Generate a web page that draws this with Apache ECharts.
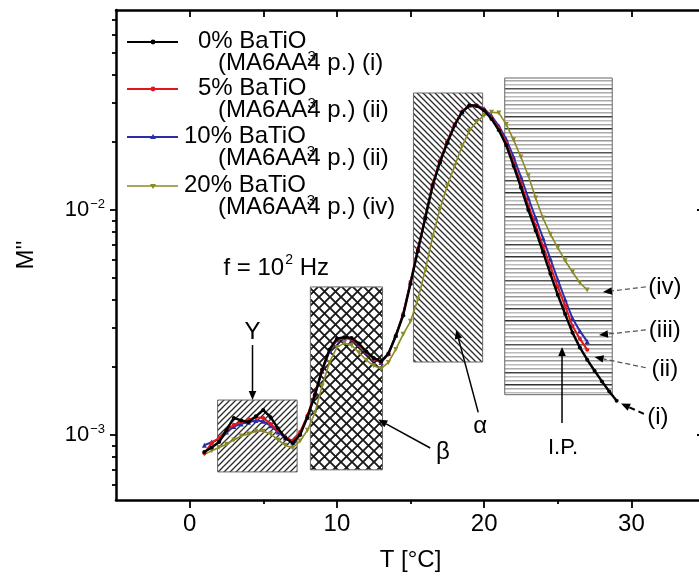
<!DOCTYPE html>
<html><head><meta charset="utf-8">
<script src="https://cdn.jsdelivr.net/npm/echarts@6/dist/echarts.min.js"></script>
<style>html,body{margin:0;padding:0;background:#fff}#c{width:699px;height:576px}</style>
</head><body><div id="c"></div>
<script>
const FONT = '"Liberation Sans", Arial, Helvetica, sans-serif';

// ---- data ----
const temps0 = [1,1.5,2,2.5,3,3.5,4,4.5,5,5.5,6,6.5,7,7.5,8,8.5,9,9.5,10,10.5,11,11.5,12,12.5,13,13.5,14,14.5,15,15.5,16,16.5,17,17.5,18,18.5,19,19.5,20,20.5,21,21.5,22,22.5,23,23.5,24,24.5,25,25.5,26,26.5,27,27.5,28,28.5,29];
const tempsB = [1,1.5,2,2.5,3,3.5,4,4.5,5,5.5,6,6.5,7,7.5,8,8.5,9,9.5,10,10.5,11,11.5,12,12.5,13,13.5,14,14.5,15,15.5,16,16.5,17,17.5,18,18.5,19,19.5,20,20.5,21,21.5,22,22.5,23,23.5,24,24.5,25,25.5,26,26.5,27];
const m0 = [8.4e-4,8.8e-4,9.3e-4,1.05e-3,1.19e-3,1.16e-3,1.14e-3,1.21e-3,1.29e-3,1.20e-3,
 1.07e-3,9.7e-4,9.2e-4,1.0e-3,1.2e-3,1.5e-3,1.95e-3,2.4e-3,2.68e-3,2.72e-3,
 2.70e-3,2.55e-3,2.35e-3,2.2e-3,2.12e-3,2.3e-3,2.75e-3,3.4e-3,4.7e-3,6.6e-3,
 9.2e-3,1.28e-2,1.63e-2,1.99e-2,2.38e-2,2.72e-2,2.92e-2,2.90e-2,2.77e-2,2.54e-2,
 2.26e-2,1.94e-2,1.57e-2,1.26e-2,1.00e-2,8.1e-3,6.5e-3,5.2e-3,4.2e-3,3.45e-3,
 2.85e-3,2.45e-3,2.16e-3,1.93e-3,1.73e-3,1.56e-3,1.42e-3];
const m5 = [8.3e-4,9.2e-4,9.7e-4,1.05e-3,1.11e-3,1.14e-3,1.17e-3,1.2e-3,1.19e-3,1.12e-3,
 1.05e-3,9.8e-4,9.4e-4,1.03e-3,1.22e-3,1.52e-3,1.95e-3,2.38e-3,2.65e-3,2.70e-3,
 2.68e-3,2.52e-3,2.33e-3,2.18e-3,2.1e-3,2.28e-3,2.75e-3,3.45e-3,4.8e-3,6.7e-3,
 9.3e-3,1.30e-2,1.66e-2,2.02e-2,2.41e-2,2.74e-2,2.92e-2,2.91e-2,2.79e-2,2.57e-2,
 2.30e-2,1.99e-2,1.62e-2,1.31e-2,1.05e-2,8.5e-3,6.9e-3,5.6e-3,4.55e-3,3.75e-3,
 3.05e-3,2.68e-3,2.39e-3];
const m10 = [9.0e-4,9.3e-4,9.6e-4,1.03e-3,1.09e-3,1.12e-3,1.14e-3,1.16e-3,1.15e-3,1.10e-3,
 1.03e-3,9.7e-4,9.3e-4,1.02e-3,1.2e-3,1.5e-3,1.92e-3,2.36e-3,2.64e-3,2.70e-3,
 2.67e-3,2.52e-3,2.33e-3,2.18e-3,2.1e-3,2.3e-3,2.78e-3,3.45e-3,4.75e-3,6.6e-3,
 9.2e-3,1.29e-2,1.64e-2,2.00e-2,2.39e-2,2.73e-2,2.92e-2,2.92e-2,2.82e-2,2.62e-2,
 2.36e-2,2.06e-2,1.72e-2,1.40e-2,1.13e-2,9.2e-3,7.5e-3,6.05e-3,4.9e-3,4.0e-3,
 3.3e-3,2.9e-3,2.6e-3];
const m20 = [8.2e-4,8.5e-4,8.8e-4,9.1e-4,9.5e-4,9.9e-4,1.01e-3,1.04e-3,1.04e-3,1.01e-3,
 9.5e-4,9.0e-4,8.75e-4,9.4e-4,1.05e-3,1.25e-3,1.65e-3,2.1e-3,2.45e-3,2.56e-3,
 2.5e-3,2.32e-3,2.15e-3,2.03e-3,1.97e-3,2.1e-3,2.4e-3,2.8e-3,3.2e-3,4.0e-3,
 5.4e-3,7.6e-3,1.01e-2,1.28e-2,1.57e-2,1.92e-2,2.25e-2,2.47e-2,2.63e-2,2.72e-2,
 2.70e-2,2.40e-2,2.05e-2,1.72e-2,1.42e-2,1.13e-2,9.2e-3,7.8e-3,6.8e-3,5.95e-3,
 5.3e-3,4.75e-3,4.41e-3];
const seriesNames = ['0% BaTiO3 (MA6AA4 p.) (i)','5% BaTiO3 (MA6AA4 p.) (ii)','10% BaTiO3 (MA6AA4 p.) (ii)','20% BaTiO3 (MA6AA4 p.) (iv)'];
const legendHead = ['0% BaTiO','5% BaTiO','10% BaTiO','20% BaTiO'];
const legendSub = ['(MA6AA4 p.) (i)','(MA6AA4 p.) (ii)','(MA6AA4 p.) (ii)','(MA6AA4 p.) (iv)'];
const xMajorTicks = [0,10,20,30];
const xMinorTicks = [5,15,25];
const xTopTicks = [0,5,10,15,20,25,30];
const yMajorTicks = [1e-3,1e-2];
const yMinorTicks = [6e-4,7e-4,8e-4,9e-4,2e-3,3e-3,4e-3,5e-3,6e-3,7e-3,8e-3,9e-3,2e-2,3e-2,4e-2,5e-2,6e-2,7e-2];
// relaxation regions [T range], [M'' range]
const regionT = {g:[1.9,7.3], b:[8.2,13.1], a:[15.2,19.9], ip:[21.4,28.7]};
const regionM = {g:[6.85e-4,1.43e-3], b:[7.0e-4,4.55e-3], a:[2.11e-3,3.31e-2], ip:[1.51e-3,3.86e-2]};

const X_MIN=-5, X_MAX=35, Y_MIN=5.14e-4, Y_MAX=0.0774;
const colors = ['#000000','#e3141c','#2d2da8','#8a8a26'];

function pattern(kind){
  const c=document.createElement('canvas'); const g=c.getContext('2d');
  if(kind==='fwd'||kind==='back'){
    const s=6; c.width=c.height=s; g.fillStyle='#fff'; g.fillRect(0,0,s,s);
    g.strokeStyle='#2a2a2a'; g.lineWidth=1.3; g.beginPath();
    if(kind==='fwd'){ g.moveTo(-1,s+1); g.lineTo(s+1,-1); g.moveTo(-1,1); g.lineTo(1,-1); g.moveTo(s-1,s+1); g.lineTo(s+1,s-1); }
    else { g.moveTo(-1,-1); g.lineTo(s+1,s+1); g.moveTo(s-1,-1); g.lineTo(s+1,1); g.moveTo(-1,s-1); g.lineTo(1,s+1); }
    g.stroke();
  } else if(kind==='cross'){
    const s=11; c.width=c.height=s; g.fillStyle='#fff'; g.fillRect(0,0,s,s);
    g.strokeStyle='#1a1a1a'; g.lineWidth=1.9; g.beginPath();
    g.moveTo(-1,-1); g.lineTo(s+1,s+1); g.moveTo(-1,s+1); g.lineTo(s+1,-1); g.stroke();
  } else {
    c.width=4; c.height=64; g.fillStyle='#fff'; g.fillRect(0,0,4,64);
    const cols=['#333','#aaa','#bbb','#999','#aaa','#bbb','#555','#aaa','#bbb','#aaa','#999','#bbb','#aaa','#444','#bbb','#aaa'];
    for(let i=0;i<16;i++){ g.fillStyle=cols[i]; g.fillRect(0,i*4,4,1.5); }
  }
  return {image:c, repeat:'repeat'};
}
function area(key, kind){
  return [{coord:[regionT[key][0], regionM[key][1]], itemStyle:{color:pattern(kind), borderColor:'#666', borderWidth:1, opacity:1}},
          {coord:[regionT[key][1], regionM[key][0]]}];
}

const chart = echarts.init(document.getElementById('c'), null, {renderer:'canvas'});
const axLine = {show:true, onZero:false, lineStyle:{color:'#000', width:2.5}};
const tickStyle = {color:'#000', width:1.8};
chart.setOption({
  animation:false,
  backgroundColor:'#fff',
  textStyle:{fontFamily:FONT},
  grid:[{left:116, top:10, width:589, height:490, show:false, containLabel:false, outerBoundsMode:'none'},
        {left:116, top:10, width:589, height:490, show:false, containLabel:false, outerBoundsMode:'none'}],
  xAxis:[
    {type:'value', gridIndex:0, position:'bottom', min:X_MIN, max:X_MAX, axisLine:axLine,
     axisTick:{show:true, inside:false, length:8, lineStyle:tickStyle, customValues:xMajorTicks},
     axisLabel:{customValues:xMajorTicks, fontSize:24, color:'#000', margin:12, fontFamily:FONT},
     splitLine:{show:false}, name:'T [°C]', nameLocation:'middle', nameGap:48,
     nameTextStyle:{fontSize:24, color:'#000', fontFamily:FONT}},
    {type:'value', gridIndex:0, position:'top', min:X_MIN, max:X_MAX, axisLine:axLine,
     axisTick:{show:true, inside:true, length:7, lineStyle:tickStyle, customValues:xTopTicks},
     axisLabel:{show:false}, splitLine:{show:false}},
    {type:'value', gridIndex:1, position:'bottom', min:X_MIN, max:X_MAX, axisLine:{show:false, onZero:false},
     axisTick:{show:true, inside:false, length:4, lineStyle:tickStyle, customValues:xMinorTicks},
     axisLabel:{show:false}, splitLine:{show:false}}
  ],
  yAxis:[
    {type:'log', gridIndex:0, position:'left', min:Y_MIN, max:Y_MAX, axisLine:axLine,
     axisTick:{show:true, inside:false, length:6, lineStyle:tickStyle, customValues:yMajorTicks},
     axisLabel:{customValues:yMajorTicks, margin:11, color:'#000',
       formatter:function(v){ const e=Math.round(Math.log10(v)); return '{b|10}{s|'+String(e).replace('-','−')+'}'; },
       rich:{b:{fontSize:22, fontFamily:FONT, color:'#000'}, s:{fontSize:13, fontFamily:FONT, color:'#000', padding:[0,0,12,1]}}},
     splitLine:{show:false}, name:"M''", nameLocation:'middle', nameGap:78,
     nameTextStyle:{fontSize:24, color:'#000', fontFamily:FONT}},
    {type:'log', gridIndex:0, position:'right', min:Y_MIN, max:Y_MAX, axisLine:axLine,
     axisTick:{show:true, inside:true, length:8, lineStyle:tickStyle, customValues:yMajorTicks},
     axisLabel:{show:false}, splitLine:{show:false}},
    {type:'log', gridIndex:1, position:'left', min:Y_MIN, max:Y_MAX, axisLine:{show:false, onZero:false},
     axisTick:{show:true, inside:false, length:4, lineStyle:tickStyle, customValues:yMinorTicks},
     axisLabel:{show:false}, splitLine:{show:false}}
  ],
  series:[
    {type:'line', name:'regions', xAxisIndex:0, yAxisIndex:0, data:[], z:1, silent:true,
     markArea:{silent:true, label:{show:false},
       data:[area('g','fwd'), area('b','cross'), area('a','back'), area('ip','horiz')]}},
    {type:'line', name:seriesNames[3], xAxisIndex:0, yAxisIndex:0, z:3,
     data:tempsB.map((t,i)=>[t,m20[i]]), symbol:'triangle', symbolRotate:180, symbolSize:5,
     lineStyle:{color:colors[3], width:1.6}, itemStyle:{color:colors[3]}},
    {type:'line', name:seriesNames[2], xAxisIndex:0, yAxisIndex:0, z:4,
     data:tempsB.map((t,i)=>[t,m10[i]]), symbol:'triangle', symbolSize:5,
     lineStyle:{color:colors[2], width:2}, itemStyle:{color:colors[2]}},
    {type:'line', name:seriesNames[1], xAxisIndex:0, yAxisIndex:0, z:5,
     data:tempsB.map((t,i)=>[t,m5[i]]), symbol:'circle', symbolSize:4,
     lineStyle:{color:colors[1], width:2}, itemStyle:{color:colors[1]}},
    {type:'line', name:seriesNames[0], xAxisIndex:0, yAxisIndex:0, z:6,
     data:temps0.map((t,i)=>[t,m0[i]]), symbol:'circle', symbolSize:4,
     lineStyle:{color:colors[0], width:2.4}, itemStyle:{color:colors[0]}}
  ]
});

// ---- annotations & legend (graphic) ----
const mctx = document.createElement('canvas').getContext('2d');
function tw(str, size){ mctx.font = size+'px '+FONT; return mctx.measureText(str).width; }
function txt(str, x, y, size, align, extra){
  return Object.assign({type:'text', x:x, y:y, z:100, silent:true,
    style:{text:str, font:size+'px '+FONT, fill:'#000', align:align||'left', textAlign:align||'left',
           verticalAlign:'middle', textVerticalAlign:'middle'}}, extra||{});
}
function arrow(p0, p1, opt){
  opt = opt||{};
  const dx=p1[0]-p0[0], dy=p1[1]-p0[1], L=Math.hypot(dx,dy), ux=dx/L, uy=dy/L;
  const hl=opt.head||9, hw=opt.hw||3.8;
  const bx=p1[0]-ux*hl, by=p1[1]-uy*hl;
  return [
    {type:'line', z:100, silent:true, shape:{x1:p0[0], y1:p0[1], x2:bx, y2:by},
     style:{stroke:opt.color||'#000', lineWidth:opt.width||1.5, lineDash:opt.dash||null}},
    {type:'polygon', z:100, silent:true, shape:{points:[[p1[0],p1[1]],[bx-uy*hw,by+ux*hw],[bx+uy*hw,by-ux*hw]]},
     style:{fill:'#000'}}
  ];
}
const P = (t,v) => chart.convertToPixel({xAxisIndex:0, yAxisIndex:0}, [t,v]);
const g = [];
// labels in data coordinates
const annText = [['Y',[4.27,2.87e-3]],['β',[17.2,8.4e-4]],['α',[19.73,1.09e-3]],['I.P.',[25.36,8.75e-4]],
  ['(iv)',[32.27,4.55e-3]],['(iii)',[32.27,2.93e-3]],['(ii)',[32.27,1.95e-3]],['(i)',[31.8,1.2e-3]]];
annText.forEach(a=>{ const p=P(a[1][0],a[1][1]); g.push(txt(a[0], p[0], p[1], a[0]==='I.P.'?22:24, 'center')); });
const annArrows = [
  [[4.27,2.51e-3],[4.27,1.43e-3],{}],
  [[16.34,8.75e-4],[12.81,1.17e-3],{}],
  [[19.6,1.26e-3],[18.1,2.93e-3],{}],
  [[25.29,1.13e-3],[25.29,2.46e-3],{}],
  [[30.98,4.55e-3],[28.07,4.32e-3],{dash:[5,3], color:'#555', width:1.2}],
  [[30.98,2.93e-3],[27.8,2.78e-3],{dash:[5,3], color:'#555', width:1.2}],
  [[30.98,1.99e-3],[27.5,2.22e-3],{dash:[5,3], color:'#555', width:1.2}],
  [[30.85,1.24e-3],[29.3,1.38e-3],{dash:[6,4], color:'#000', width:2}]
];
annArrows.forEach(a=>{ g.push(...arrow(P(a[0][0],a[0][1]), P(a[1][0],a[1][1]), a[2])); });
// f = 10^2 Hz
{
  const p = P(2.3, 5.52e-3);
  let x = p[0];
  g.push(txt('f = 10', x, p[1], 24)); x += tw('f = 10',24)+1;
  g.push(txt('2', x, p[1]-8, 14)); x += tw('2',14);
  g.push(txt(' Hz', x, p[1], 24));
}
// legend
const legY = [41, 88, 136, 185];
const legX = [198, 198, 184, 184];
for(let i=0;i<4;i++){
  const y=legY[i];
  g.push({type:'line', z:100, silent:true, shape:{x1:127,y1:y+1,x2:178,y2:y+1}, style:{stroke:colors[i], lineWidth:i===3?1.6:2.2}});
  if(i<2) g.push({type:'circle', z:101, silent:true, shape:{cx:153, cy:y+1, r:2.4}, style:{fill:colors[i]}});
  else if(i===2) g.push({type:'polygon', z:101, silent:true, shape:{points:[[153,y-2],[150,y+3],[156,y+3]]}, style:{fill:colors[i]}});
  else g.push({type:'polygon', z:101, silent:true, shape:{points:[[153,y+4],[150,y-1],[156,y-1]]}, style:{fill:colors[i]}});
  g.push(txt(legendHead[i], legX[i], y, 24));
  g.push(txt('3', legX[i]+tw(legendHead[i],24)+1, y+16, 15));
  g.push(txt(legendSub[i], 218, y+22, 24));
}
chart.setOption({graphic:g});
</script></body></html>
